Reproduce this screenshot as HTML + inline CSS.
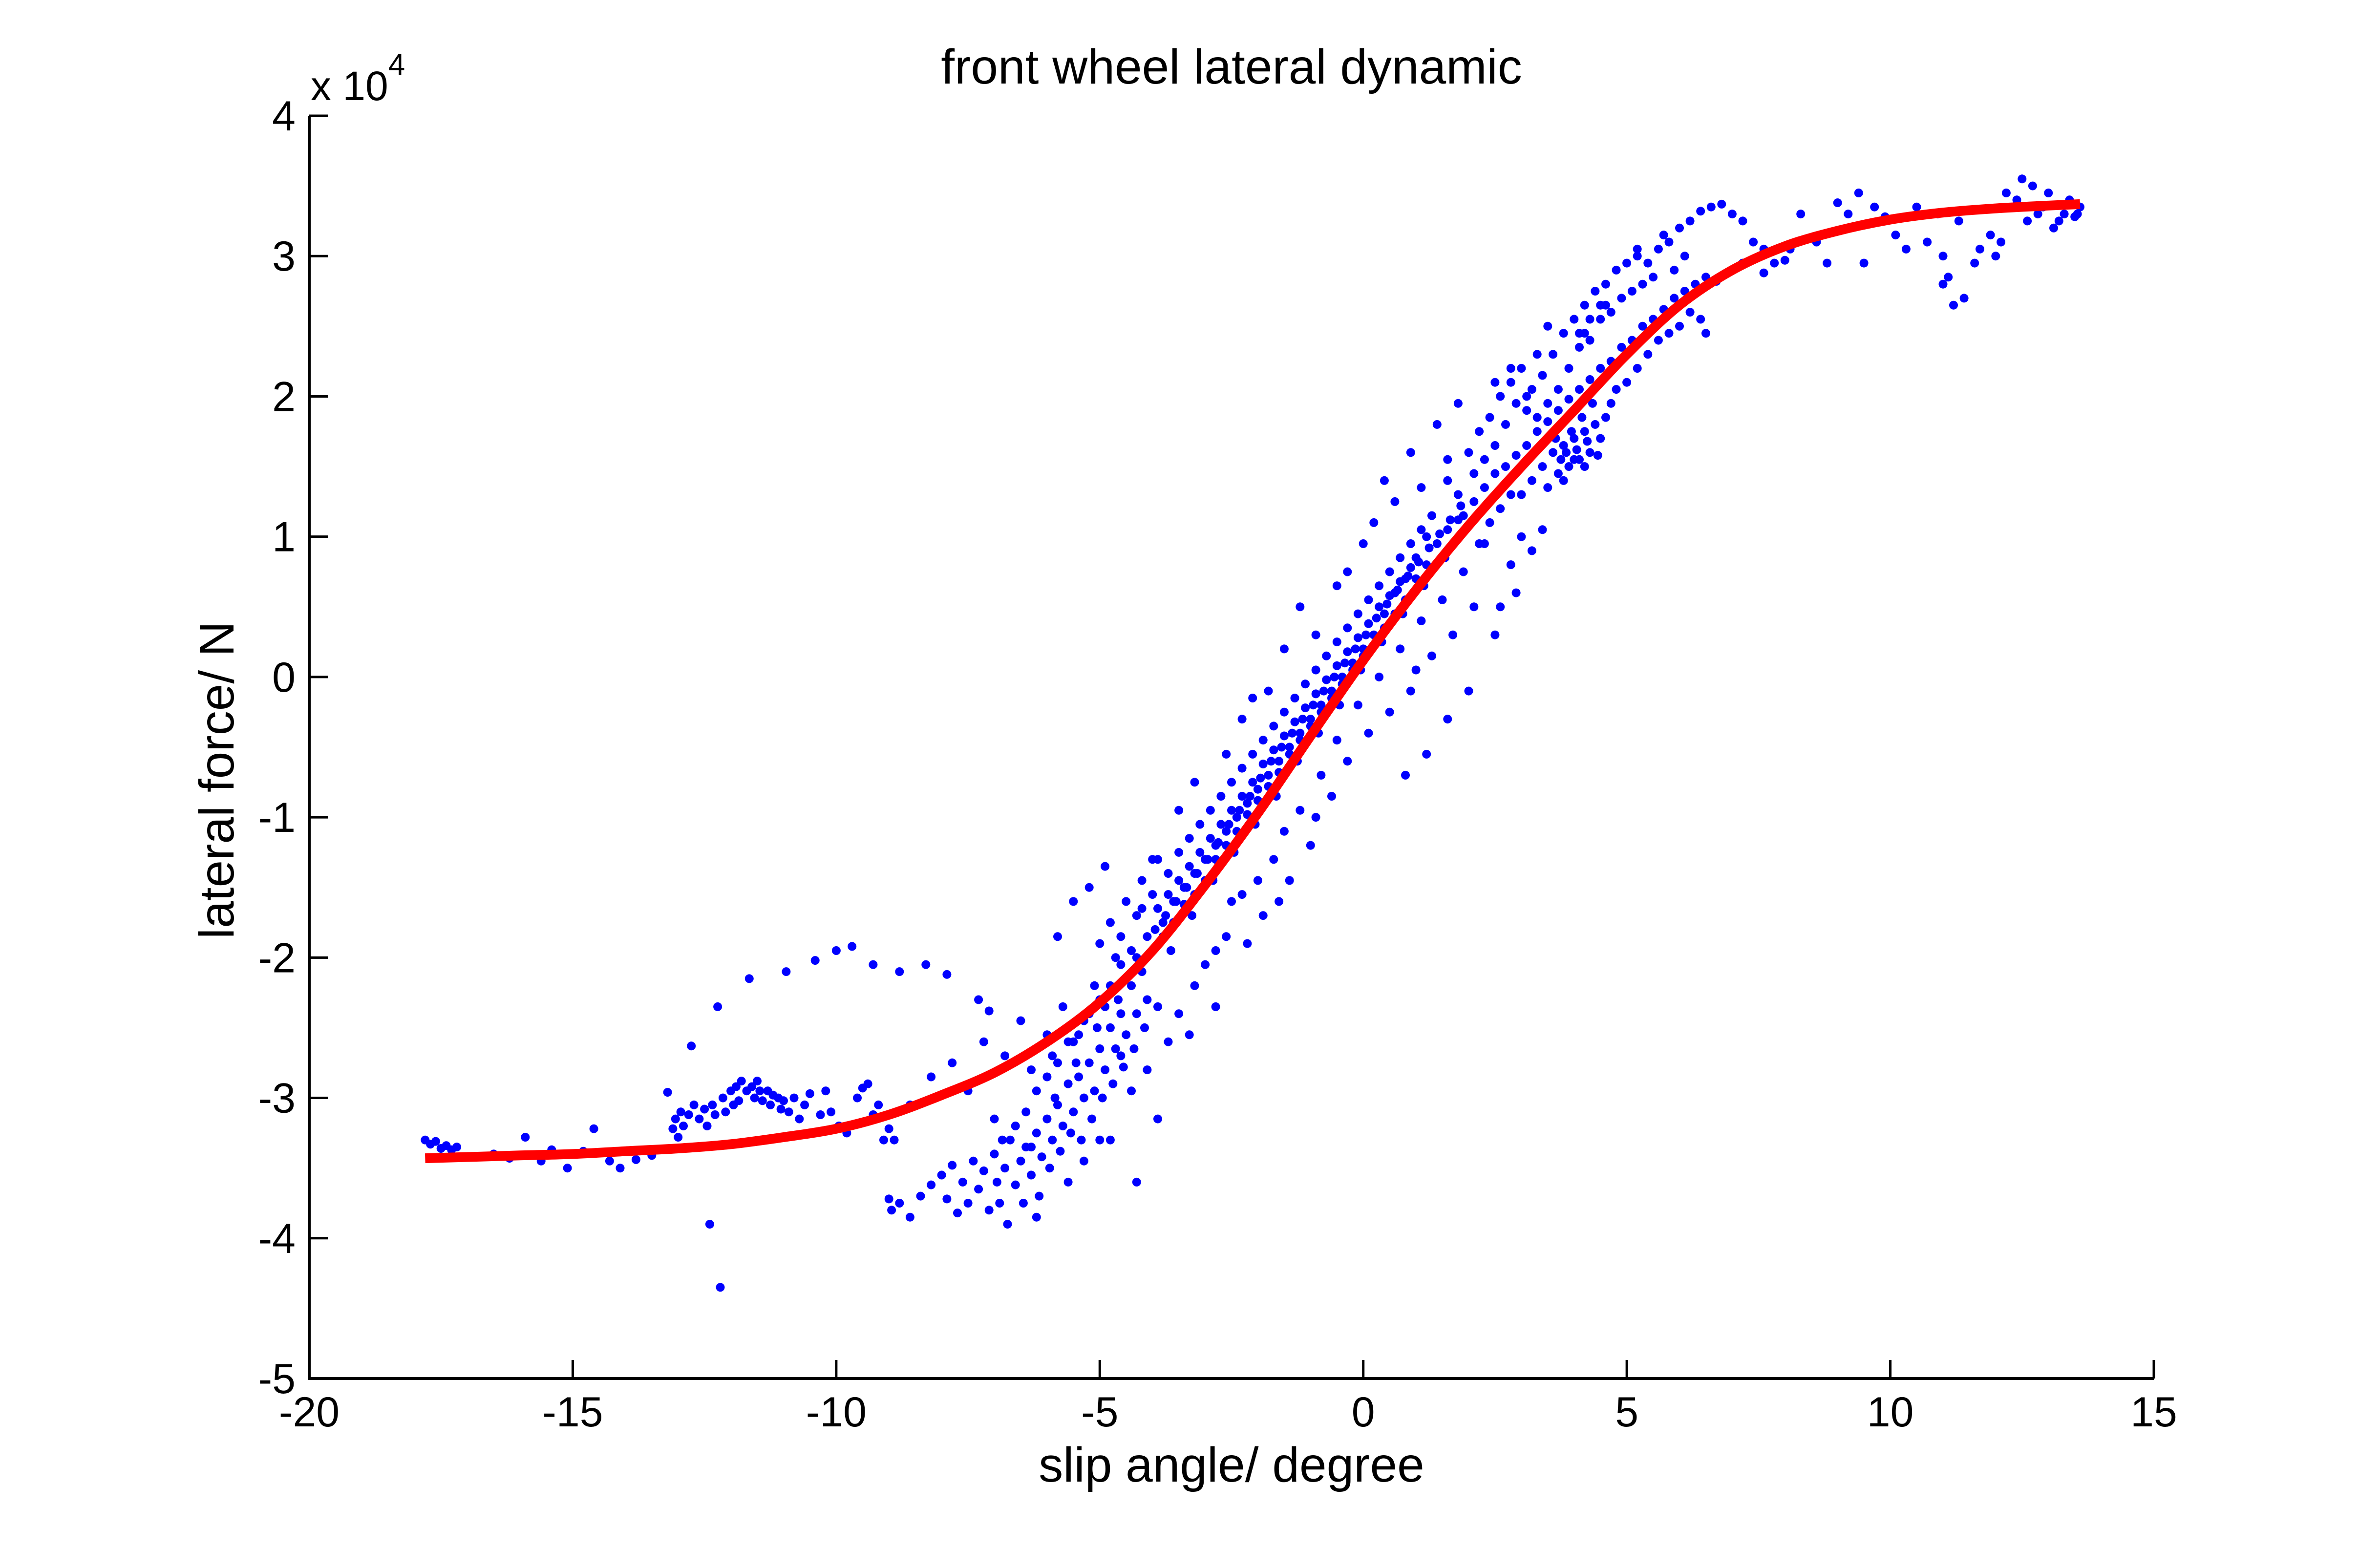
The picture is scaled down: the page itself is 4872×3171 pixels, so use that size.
<!DOCTYPE html>
<html><head><meta charset="utf-8"><style>
html,body{margin:0;padding:0;background:#fff;}
svg{display:block;}
text{font-family:"Liberation Sans",Arial,sans-serif;fill:#000;}
</style></head><body>
<svg id="chart" width="4872" height="3171" viewBox="0 0 4872 3171" xmlns="http://www.w3.org/2000/svg">
<rect x="0" y="0" width="4872" height="3171" fill="#fff"/>
<g id="scatter"></g>
<g id="fit"></g>
<g id="axes"></g>
<text x="2521" y="171" font-size="100" text-anchor="middle">front wheel lateral dynamic</text>
<text x="2521" y="3033" font-size="100" text-anchor="middle">slip angle/ degree</text>
<text transform="translate(478,1597) rotate(-90)" font-size="100" text-anchor="middle">lateral force/ N</text>
<text x="636" y="205" font-size="84">x 10<tspan font-size="62" dy="-52">4</tspan></text>
</svg>
<script>
const xTicks = [-20,-15,-10,-5,0,5,10,15];
const yTicks = [4,3,2,1,0,-1,-2,-3,-4,-5];
const xTickLabels = ["-20","-15","-10","-5","0","5","10","15"];
const yTickLabels = ["4","3","2","1","0","-1","-2","-3","-4","-5"];
const fitX = [-17.8,-16,-15,-14,-13,-12,-11,-10,-9,-8,-7,-6,-5,-4,-3,-2,-1,0,1,2,3,4,5,6,7,8,9,10,11,12,13,13.6];
const fitY = [-3.43,-3.41,-3.4,-3.38,-3.36,-3.33,-3.28,-3.22,-3.12,-2.98,-2.82,-2.6,-2.32,-1.95,-1.48,-0.97,-0.42,0.12,0.62,1.08,1.5,1.9,2.3,2.65,2.9,3.07,3.18,3.26,3.31,3.34,3.36,3.37];
const scatterPoints = [
[-17.8,-3.3],[-17.7,-3.33],[-17.6,-3.31],[-17.5,-3.36],[-17.4,-3.34],[-17.3,-3.37],[-17.2,-3.35],[-16.8,-3.42],[-16.5,-3.4],[-16.2,-3.43],[-15.9,-3.28],[-15.6,-3.45],[-15.4,-3.37],[-15.1,-3.5],[-14.8,-3.38],[-14.6,-3.22],[-14.3,-3.45],[-14.1,-3.5],[-13.8,-3.44],[-13.5,-3.41],
[-13.2,-2.96],[-13.1,-3.22],[-13.05,-3.15],[-13.0,-3.28],[-12.95,-3.1],[-12.9,-3.2],[-12.8,-3.12],[-12.75,-2.63],[-12.7,-3.05],[-12.6,-3.15],[-12.5,-3.08],[-12.45,-3.2],[-12.4,-3.9],[-12.35,-3.05],[-12.3,-3.12],[-12.25,-2.35],[-12.2,-4.35],[-12.15,-3.0],[-12.1,-3.1],[-12.0,-2.95],[-11.95,-3.05],[-11.9,-2.92],[-11.85,-3.02],[-11.8,-2.88],[-11.7,-2.95],[-11.65,-2.15],[-11.6,-2.92],[-11.55,-3.0],[-11.5,-2.88],[-11.45,-2.95],[-11.4,-3.02],[-11.3,-2.95],[-11.25,-3.05],[-11.2,-2.98],[-11.1,-3.0],[-11.05,-3.08],[-11.0,-3.02],[-10.95,-2.1],[-10.9,-3.1],[-10.8,-3.0],[-10.7,-3.15],[-10.6,-3.05],[-10.5,-2.97],[-10.4,-2.02],[-10.3,-3.12],[-10.2,-2.95],[-10.1,-3.1],[-10.0,-1.95],[-9.95,-3.2],[-9.8,-3.25],[-9.7,-1.92],[-9.6,-3.0],[-9.5,-2.93],[-9.4,-2.9],[-9.3,-3.12],[-9.2,-3.05],[-9.1,-3.3],[-9.0,-3.22],[-9.3,-2.05],[-8.8,-2.1],[-8.3,-2.05],[-7.9,-2.12],[-7.3,-2.3],[-7.1,-2.38],
[-9.0,-3.72],[-8.95,-3.8],[-8.8,-3.75],[-8.6,-3.85],[-8.4,-3.7],[-8.2,-3.62],[-8.0,-3.55],[-7.9,-3.72],[-7.8,-3.48],[-7.7,-3.82],[-7.6,-3.6],[-7.5,-3.75],[-7.4,-3.45],[-7.3,-3.65],[-7.2,-3.52],[-7.1,-3.8],[-7.0,-3.4],[-6.95,-3.6],[-6.9,-3.75],[-6.8,-3.5],[-6.75,-3.9],[-6.7,-3.3],[-6.6,-3.62],[-6.5,-3.45],[-6.45,-3.75],[-6.4,-3.35],[-6.3,-3.55],[-6.2,-3.25],[-6.15,-3.7],[-6.1,-3.42],[-6.0,-3.15],[-5.95,-3.5],[-5.9,-3.3],[-5.8,-3.05],[-5.75,-3.38],[-5.7,-3.2],[-5.6,-2.9],[-5.55,-3.25],[-5.5,-3.1],[-5.4,-2.85],[-5.35,-3.3],[-5.3,-3.0],[-5.2,-2.75],[-5.15,-3.15],[-5.1,-2.95],[-5.0,-2.65],[-4.95,-3.0],[-4.9,-2.8],[-4.8,-2.5],[-4.75,-2.9],[-4.7,-2.65],[-4.6,-2.4],[-4.55,-2.78],[-4.5,-2.55],[-4.4,-2.2],[-4.35,-2.65],[-4.3,-2.4],[-4.2,-2.1],[-4.15,-2.5],[-4.1,-2.3],
[-8.2,-2.85],[-7.8,-2.75],[-7.5,-2.95],[-7.2,-2.6],[-6.8,-2.7],[-6.5,-2.45],[-6.3,-2.8],[-6.0,-2.55],[-5.9,-2.7],[-5.7,-2.35],[-5.5,-2.6],[-5.3,-2.45],[-5.1,-2.2],[-4.9,-2.35],[-4.7,-2.0],[-4.5,-2.15],[-8.6,-3.05],[-8.9,-3.3],
[-6.6,-3.2],[-6.4,-3.1],[-6.2,-2.95],[-6.0,-2.85],[-5.8,-2.75],[-5.6,-2.6],[-5.4,-2.55],[-5.2,-2.4],[-5.0,-2.3],[-4.8,-2.2],[-4.6,-2.05],[-4.4,-1.95],[-7.0,-3.15],[-6.85,-3.3],[-6.3,-3.35],[-5.85,-3.0],[-5.45,-2.75],[-5.05,-2.5],[-4.65,-2.3],
[-5.0,-1.9],[-4.8,-1.75],[-4.6,-1.85],[-4.5,-1.6],[-4.3,-1.7],[-4.2,-1.45],[-4.0,-1.55],[-3.9,-1.3],[-3.8,-1.75],[-3.7,-1.4],[-3.6,-1.6],[-3.5,-1.25],[-3.4,-1.5],[-3.3,-1.15],[-3.2,-1.4],[-3.1,-1.05],[-3.0,-1.3],[-2.9,-0.95],[-2.8,-1.2],[-2.7,-0.85],[-2.6,-1.1],[-2.5,-0.75],[-2.4,-1.0],[-2.3,-0.65],[-2.2,-0.9],[-2.1,-0.55],[-2.0,-0.8],[-1.9,-0.45],[-1.8,-0.7],[-1.7,-0.35],[-1.6,-0.6],[-1.5,-0.25],[-1.4,-0.5],[-1.3,-0.15],[-1.2,-0.4],[-1.1,-0.05],[-1.0,-0.3],[-0.9,0.05],[-0.8,-0.2],[-0.7,0.15],[-0.6,-0.1],[-0.5,0.25],[-0.4,0.0],[-0.3,0.35],[-0.2,0.1],[-0.1,0.45],[0.0,0.2],[0.1,0.55],[0.2,0.3],[0.3,0.65],[0.4,0.45],[0.5,0.75],[0.6,0.6],[0.7,0.85],[0.8,0.7],[0.9,0.95],[1.0,0.85],[1.1,1.05],[1.2,1.0],[1.3,1.15],
[-4.0,-1.95],[-3.8,-1.85],[-3.6,-1.75],[-3.4,-1.62],[-3.2,-1.55],[-3.0,-1.45],[-2.8,-1.3],[-2.6,-1.2],[-2.4,-1.1],[-2.2,-0.98],[-2.0,-0.88],[-1.8,-0.78],[-1.6,-0.68],[-1.4,-0.55],[-1.2,-0.45],[-1.0,-0.35],[-0.8,-0.25],[-0.6,-0.15],[-0.4,-0.05],[-0.2,0.05],[0.0,0.15],[0.2,0.22],[0.4,0.35],[0.6,0.45],[0.8,0.55],[1.0,0.7],[1.2,0.8],[1.4,0.95],[1.6,1.05],[1.8,1.12],
[-3.9,-1.65],[-3.7,-1.55],[-3.5,-1.45],[-3.3,-1.35],[-3.1,-1.25],[-2.9,-1.15],[-2.7,-1.05],[-2.5,-0.95],[-2.3,-0.85],[-2.1,-0.75],[-1.9,-0.62],[-1.7,-0.52],[-1.5,-0.42],[-1.3,-0.32],[-1.1,-0.22],[-0.9,-0.12],[-0.7,-0.02],[-0.5,0.08],[-0.3,0.18],[-0.1,0.28],[0.1,0.38],[0.3,0.5],[0.5,0.58],[0.7,0.68],[0.9,0.78],
[-3.95,-1.8],[-3.75,-1.7],[-3.55,-1.6],[-3.35,-1.5],[-3.15,-1.4],[-2.95,-1.3],[-2.75,-1.18],[-2.55,-1.05],[-2.35,-0.95],[-2.15,-0.85],[-1.95,-0.72],[-1.75,-0.6],[-1.55,-0.5],[-1.35,-0.4],[-1.15,-0.3],[-0.95,-0.2],[-0.75,-0.1],[-0.55,0.0],[-0.35,0.1],[-0.15,0.2],[0.05,0.3],[0.25,0.42],[0.45,0.52],[0.65,0.62],[0.85,0.72],[1.05,0.82],[1.25,0.92],[1.45,1.02],[1.65,1.12],[1.85,1.22],
[-4.3,-2.0],[-4.1,-1.85],[-3.65,-1.95],[-3.25,-1.7],[-2.85,-1.45],[-2.45,-1.25],[-2.05,-1.05],[-1.65,-0.85],[-1.25,-0.6],[-0.85,-0.4],[-0.45,-0.2],[-0.05,0.05],[0.35,0.25],[0.75,0.45],[1.15,0.65],[1.55,0.85],
[-5.8,-1.85],[-5.5,-1.6],[-5.2,-1.5],[-4.9,-1.35],[-4.0,-1.3],[-3.5,-0.95],[-3.2,-0.75],[-2.3,-0.3],[-2.1,-0.15],[-1.5,0.2],[-1.2,0.5],[-0.9,0.3],[-0.5,0.65],[-0.3,0.75],[0.0,0.95],[0.2,1.1],[0.4,1.4],[0.6,1.25],[0.9,1.6],[1.1,1.35],[1.4,1.8],[1.6,1.55],[1.8,1.95],[-1.8,-0.1],[-2.6,-0.55],[-4.2,-1.65],
[-3.5,-2.4],[-3.2,-2.2],[-3.0,-2.05],[-2.8,-2.35],[-2.6,-1.85],[-2.5,-1.6],[-2.3,-1.55],[-2.0,-1.45],[-1.9,-1.7],[-1.7,-1.3],[-1.5,-1.1],[-1.4,-1.45],[-1.2,-0.95],[-1.0,-1.2],[-0.8,-0.7],[-0.6,-0.85],[-0.5,-0.45],[-0.3,-0.6],[-0.1,-0.2],[0.1,-0.4],[0.3,0.0],[0.5,-0.25],[0.7,0.2],[0.9,-0.1],[1.1,0.4],[1.3,0.15],[1.5,0.55],[1.7,0.3],[1.9,0.75],[2.1,0.5],[2.0,-0.1],[1.6,-0.3],[1.2,-0.55],[0.8,-0.7],[1.0,0.05],[2.3,0.95],[2.6,0.5],[2.8,0.8],[-2.8,-1.95],[-3.9,-2.35],[-3.3,-2.55],[-2.2,-1.9],[-1.6,-1.6],[-0.9,-1.0],[-4.6,-2.7],[-4.8,-3.3],[-4.4,-2.95],[-4.1,-2.8],[-3.7,-2.6],[-5.3,-3.45],[-5.0,-3.3],[-5.6,-3.6],[-3.9,-3.15],[-4.3,-3.6],[-6.2,-3.85],
[1.6,1.4],[1.8,1.3],[2.0,1.6],[2.1,1.45],[2.2,1.75],[2.3,1.55],[2.4,1.85],[2.5,1.65],[2.6,2.0],[2.7,1.8],[2.8,2.1],[2.9,1.95],[3.0,2.2],[3.1,1.9],[3.2,2.05],[3.3,1.85],[3.4,2.15],[3.5,1.95],[3.6,2.3],[3.7,2.05],[3.8,2.45],[3.9,2.2],[4.0,2.55],[4.1,2.35],[4.2,2.65],[4.3,2.4],[4.4,2.75],[4.5,2.55],[4.6,2.8],[4.7,2.6],[4.8,2.9],[4.9,2.7],[5.0,2.95],[5.1,2.75],[5.2,3.0],[5.3,2.8],[5.4,2.95],[5.5,2.85],[5.6,3.05],[5.8,3.1],[6.0,3.2],[6.2,3.25],[6.4,3.32],[6.6,3.35],[6.8,3.37],[7.0,3.3],[7.2,3.25],[7.4,3.1],[7.6,3.05],[7.8,2.95],[4.2,2.45],[4.5,2.65],[3.5,2.5],[2.8,2.2],[2.5,2.1],[5.2,3.05],[5.7,3.15],[6.1,3.0],[5.9,2.9],
[1.9,1.15],[2.1,1.25],[2.3,1.35],[2.5,1.45],[2.7,1.5],[2.9,1.58],[3.1,1.65],[3.3,1.75],[3.5,1.82],[3.7,1.9],[3.9,1.98],[4.1,2.05],[4.3,2.12],[4.5,2.2],[4.7,2.25],[4.9,2.35],[5.1,2.4],[5.3,2.5],[5.5,2.55],[5.7,2.62],[5.9,2.7],[6.1,2.75],[6.3,2.8],[6.5,2.85],[6.7,2.82],[6.9,2.88],[7.2,2.95],[7.6,2.88],[8.0,2.97],
[2.2,0.95],[2.4,1.1],[2.6,1.2],[2.8,1.3],[3.0,1.3],[3.2,1.4],[3.4,1.5],[3.5,1.35],[3.6,1.6],[3.7,1.45],[3.8,1.65],[3.9,1.5],[4.0,1.7],[4.1,1.55],[4.2,1.75],[4.3,1.6],[4.4,1.8],[4.5,1.7],[4.6,1.85],[4.7,1.95],[4.8,2.05],[5.0,2.1],[5.2,2.2],[5.4,2.3],[5.6,2.4],[5.8,2.45],[6.0,2.5],[6.2,2.6],[6.4,2.55],[6.5,2.45],[2.5,0.3],[2.9,0.6],[3.2,0.9],[3.4,1.05],[3.0,1.0],[4.0,1.55],[4.2,1.5],[3.8,1.4],
[3.85,1.6],[3.95,1.75],[4.05,1.62],[4.15,1.85],[4.25,1.68],[4.35,1.95],[4.45,1.58],[3.65,1.7],[3.75,1.55],[4.1,2.45],[4.3,2.55],[4.6,2.65],[3.3,2.3],[3.1,2.0],
[8.1,3.05],[8.3,3.3],[8.6,3.1],[8.8,2.95],[9.0,3.38],[9.2,3.3],[9.4,3.45],[9.5,2.95],[9.7,3.35],[9.9,3.28],[10.1,3.15],[10.3,3.05],[10.5,3.35],[10.7,3.1],[10.9,3.3],[11.0,3.0],[11.1,2.85],[11.3,3.25],[11.4,2.7],[11.6,2.95],[11.7,3.05],[11.9,3.15],[12.1,3.1],[12.2,3.45],[12.4,3.4],[12.5,3.55],[12.6,3.25],[12.7,3.5],[12.8,3.3],[12.9,3.35],[13.0,3.45],[13.1,3.2],[13.2,3.25],[13.3,3.3],[13.4,3.4],[13.5,3.28],[13.6,3.35],[13.55,3.3],[11.2,2.65],[11.0,2.8],[12.0,3.0]
];

const NS = "http://www.w3.org/2000/svg";
const PL = 633, PR = 4409, PT = 237, PB = 2822;
const X0 = -20, X1 = 15, Y0 = -5, Y1 = 4;
function xScale(v){ return PL + (v - X0) / (X1 - X0) * (PR - PL); }
function yScale(v){ return PB - (v - Y0) / (Y1 - Y0) * (PB - PT); }
function mk(tag, attrs, parent){ const e = document.createElementNS(NS, tag); for (const k in attrs) e.setAttribute(k, attrs[k]); parent.appendChild(e); return e; }

const scatter = document.getElementById('scatter');
scatterPoints.forEach(function(p){
  const c = mk('circle', {cx: xScale(p[0]).toFixed(1), cy: yScale(p[1]).toFixed(1), r: 9, fill: '#0000ff'}, scatter);
  
  
});

const fit = document.getElementById('fit');
const pts = fitX.map(function(x, i){ return [xScale(x), yScale(fitY[i])]; });
let d = 'M' + pts[0][0].toFixed(1) + ',' + pts[0][1].toFixed(1);
for (let i = 0; i < pts.length - 1; i++) {
  const p0 = pts[Math.max(0, i - 1)], p1 = pts[i], p2 = pts[i + 1], p3 = pts[Math.min(pts.length - 1, i + 2)];
  const c1x = p1[0] + (p2[0] - p0[0]) / 6, c1y = p1[1] + (p2[1] - p0[1]) / 6;
  const c2x = p2[0] - (p3[0] - p1[0]) / 6, c2y = p2[1] - (p3[1] - p1[1]) / 6;
  d += ' C' + c1x.toFixed(1) + ',' + c1y.toFixed(1) + ' ' + c2x.toFixed(1) + ',' + c2y.toFixed(1) + ' ' + p2[0].toFixed(1) + ',' + p2[1].toFixed(1);
}
const curve = mk('path', {d: d, fill: 'none', stroke: '#ff0000', 'stroke-width': 20, 'stroke-linejoin': 'round'}, fit);



const axes = document.getElementById('axes');
const frameL = mk('path', {d: 'M' + PL + ',' + PT + ' L' + PL + ',' + PB + ' L' + PR + ',' + PB, fill: 'none', stroke: '#000', 'stroke-width': 6}, axes);


const TL = 38;
xTicks.forEach(function(v, i){
  const x = xScale(v);
  const t = mk('line', {x1: x, y1: PB, x2: x, y2: PB - TL, stroke: '#000', 'stroke-width': 5}, axes);
  
  
  const lb = mk('text', {x: x, y: 2920, 'font-size': 86, 'text-anchor': 'middle'}, axes);
  lb.textContent = xTickLabels[i];
  
  
});
yTicks.forEach(function(v, i){
  const y = yScale(v);
  const t = mk('line', {x1: PL, y1: y, x2: PL + TL, y2: y, stroke: '#000', 'stroke-width': 5}, axes);
  
  
  const lb = mk('text', {x: 605, y: y + 30, 'font-size': 86, 'text-anchor': 'end'}, axes);
  lb.textContent = yTickLabels[i];
  
  
});
</script>
</body></html>
